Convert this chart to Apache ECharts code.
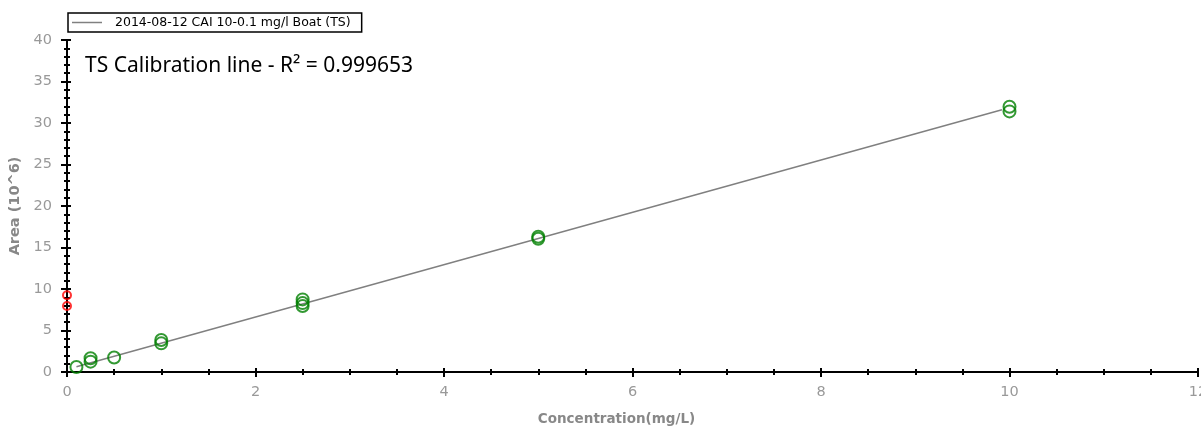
<!DOCTYPE html>
<html>
<head>
<meta charset="utf-8">
<script src="https://cdn.jsdelivr.net/npm/echarts@6/dist/echarts.min.js"></script>
<style>
html,body{margin:0;padding:0;background:#fff;}
#chart{width:1201px;height:426px;}
</style>
</head>
<body>
<div id="chart"></div>
<script>
// calibration standards (green) and rejected points (red)
var stdConc = [0.1, 0.25, 0.25, 0.5, 1, 1, 2.5, 2.5, 2.5, 5, 5, 10, 10];
var stdArea = [0.6, 1.25, 1.65, 1.75, 3.45, 3.85, 7.95, 8.3, 8.75, 16.05, 16.3, 31.4, 31.95];
var rejConc = [0, 0];
var rejArea = [7.95, 9.25];
// regression line end points
var fitConc = [0.1, 9.92];
var fitArea = [0.64, 31.6];

var seriesName = '2014-08-12 CAI 10-0.1 mg/l Boat (TS)';

function pairs(xs, ys){
	var out = [];
	for (var i = 0; i < xs.length; i++) out.push([xs[i], ys[i]]);
	return out;
}

var myChart = echarts.init(document.getElementById('chart'));
var labelStyle = { color:'#999', fontSize:14.5, fontFamily:'DejaVu Sans' };
var nameStyle = { color:'#888', fontSize:13.5, fontWeight:'bold', fontFamily:'DejaVu Sans' };
var lineStyle = { color:'#000', width:2 };

var option = {
	animation : false,
	title : {
		text : 'TS Calibration line - R\u00b2 = 0.999653',
		left : 80,
		top : 51,
		textStyle : {
			color : '#000',
			fontSize : 21,
			fontWeight : 'normal',
			fontFamily : 'Noto Sans'
		}
	},
	legend : {
		data : [ { name : seriesName, icon : 'rect' } ],
		left : 68,
		top : 13,
		orient : 'horizontal',
		padding : [ 3, 11, 3, 4 ],
		borderColor : '#000',
		borderWidth : 1.5,
		itemWidth : 30,
		itemHeight : 1.5,
		itemGap : 6,
		textStyle : {
			color : '#000',
			fontSize : 12.5,
			padding : [ 0, 0, 0, 8 ],
			fontFamily : 'DejaVu Sans'
		}
	},
	grid : {
		left : 67,
		right : 3,
		top : 40,
		bottom : 54,
		outerBoundsMode : 'none',
		containLabel : false
	},
	xAxis : [ {
		type : 'value', position : 'bottom', min : 0, max : 12, interval : 2,
		name : 'Concentration(mg/L)', nameLocation : 'middle', nameGap : 40,
		nameTextStyle : Object.assign({ padding:[0,32,0,0] }, nameStyle),
		axisLine : { lineStyle : lineStyle },
		axisTick : { show : true, inside : false, length : 5, lineStyle : lineStyle },
		minorTick : { show : true, splitNumber : 4, length : 3, lineStyle : { color:'#000', width:2 } },
		axisLabel : Object.assign({ margin : 13 }, labelStyle),
		splitLine : { show : false }
	}, {
		type : 'value', position : 'bottom', min : 0, max : 12, interval : 2,
		axisLine : { lineStyle : lineStyle },
		axisTick : { show : true, inside : true, length : 4, lineStyle : lineStyle },
		minorTick : { show : true, splitNumber : 4, length : 3, lineStyle : { color:'#000', width:2 } },
		axisLabel : { show : false },
		splitLine : { show : false }
	}, {
		type : 'value', position : 'top', min : 0, max : 12, interval : 2,
		axisLine : { lineStyle : lineStyle },
		axisTick : { show : true, inside : true, length : 5, lineStyle : lineStyle },
		minorTick : { show : true, splitNumber : 4, length : 3, lineStyle : { color:'#000', width:2 } },
		axisLabel : { show : false },
		splitLine : { show : false }
	} ],
	yAxis : [ {
		type : 'value', position : 'left', min : 0, max : 40, interval : 5,
		name : 'Area (10^6)', nameLocation : 'middle', nameGap : 42,
		nameTextStyle : Object.assign({}, nameStyle, { fontSize : 14.5 }),
		axisLine : { lineStyle : lineStyle },
		axisTick : { show : true, inside : false, length : 6, lineStyle : lineStyle },
		minorTick : { show : true, splitNumber : 5, length : 3, lineStyle : { color:'#000', width:2 } },
		axisLabel : Object.assign({ margin : 15 }, labelStyle),
		splitLine : { show : false }
	}, {
		type : 'value', position : 'left', min : 0, max : 40, interval : 5,
		axisLine : { lineStyle : lineStyle },
		axisTick : { show : true, inside : true, length : 4, lineStyle : lineStyle },
		minorTick : { show : true, splitNumber : 5, length : 3, lineStyle : { color:'#000', width:2 } },
		axisLabel : { show : false },
		splitLine : { show : false }
	}, {
		type : 'value', position : 'right', min : 0, max : 40, interval : 5,
		axisLine : { lineStyle : lineStyle },
		axisTick : { show : true, inside : true, length : 5, lineStyle : lineStyle },
		minorTick : { show : true, splitNumber : 5, length : 3, lineStyle : { color:'#000', width:2 } },
		axisLabel : { show : false },
		splitLine : { show : false }
	} ],
	series : [ {
		name : seriesName,
		type : 'line',
		xAxisIndex : 0, yAxisIndex : 0,
		showSymbol : false,
		symbol : 'none',
		itemStyle : { color : '#808080' },
		lineStyle : { color : '#808080', width : 1.5 },
		data : pairs(fitConc, fitArea),
		z : 3
	}, {
		name : 'standards',
		type : 'scatter',
		xAxisIndex : 0, yAxisIndex : 0,
		symbol : 'circle',
		symbolSize : 12,
		clip : false,
		itemStyle : { color : 'rgba(0,0,0,0)', borderColor : '#008000', borderWidth : 2 },
		data : pairs(stdConc, stdArea),
		z : 4
	}, {
		name : 'rejected',
		type : 'scatter',
		xAxisIndex : 0, yAxisIndex : 0,
		symbol : 'circle',
		symbolSize : 8,
		clip : false,
		itemStyle : { color : 'rgba(0,0,0,0)', borderColor : '#ff0000', borderWidth : 2 },
		data : pairs(rejConc, rejArea),
		z : 4
	} ]
};
myChart.setOption(option, true);
</script>
</body>
</html>
